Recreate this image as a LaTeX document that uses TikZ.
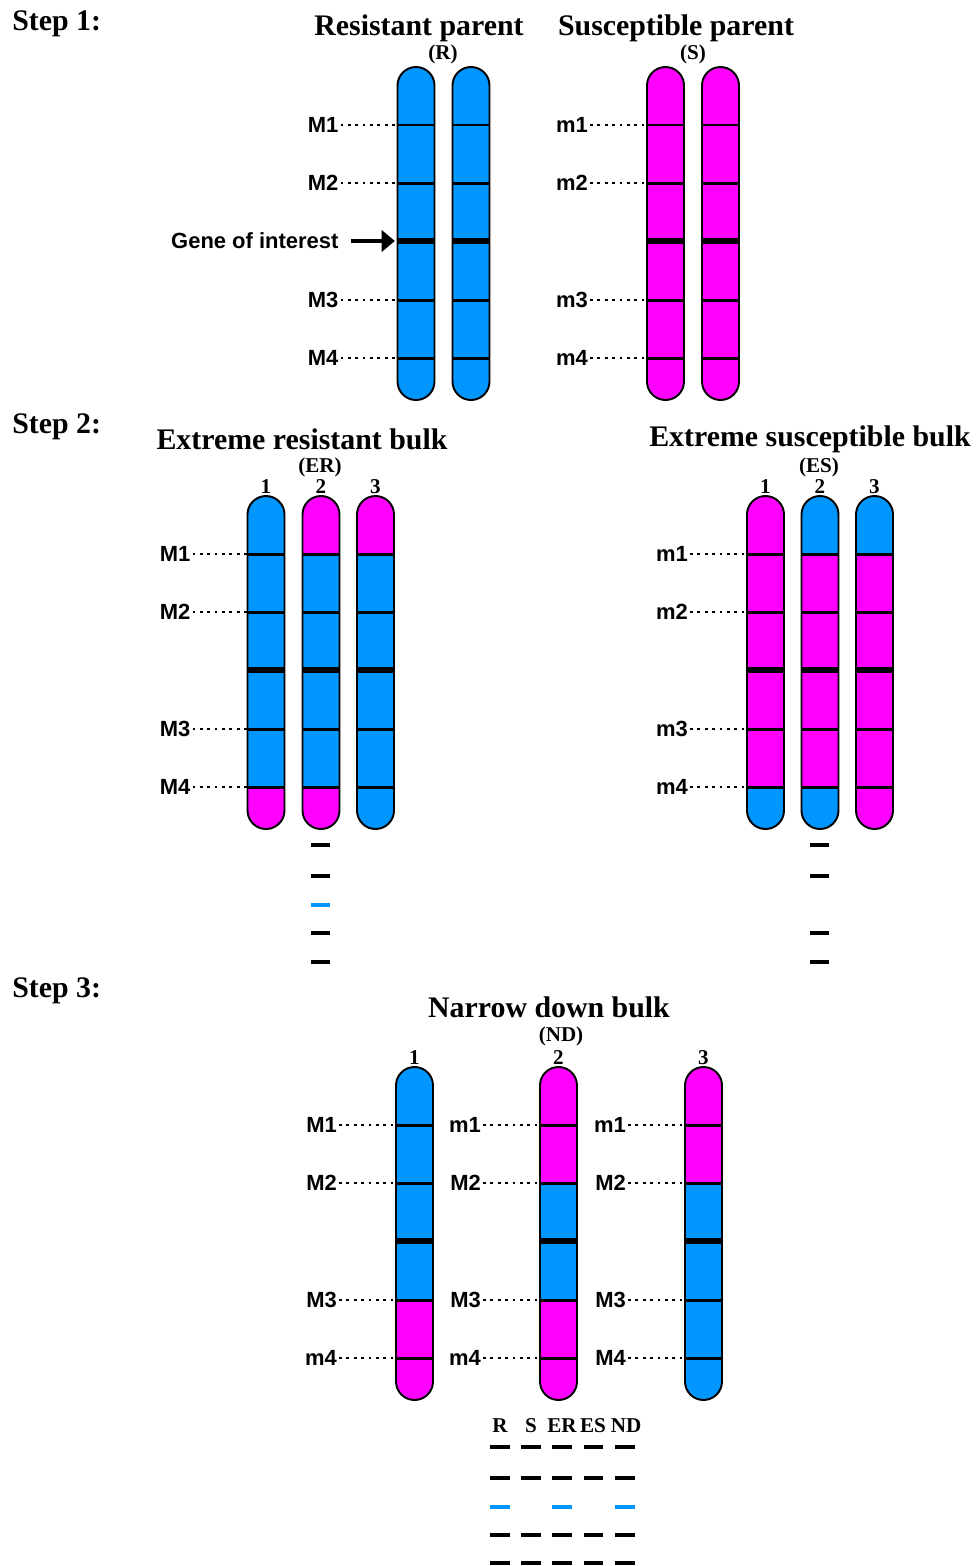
\documentclass[tikz,border=0pt]{standalone}
\usepackage{fontspec}
\setmainfont{Liberation Serif}
\newfontfamily\marksans{Liberation Sans}
\usetikzlibrary{arrows.meta,positioning}
\definecolor{resblue}{RGB}{0,150,255}
\definecolor{susmag}{RGB}{255,0,255}

% chromosome: name, centre x, top y, colours of the six segments (top to bottom)
\newcommand{\chromo}[9]{%
  \begin{scope}
    \clip[rounded corners=0.37cm] (#2-18.5,#3) rectangle (#2+18.5,#3+333);
    \fill[#4] (#2-20,#3) rectangle (#2+20,#3+58);
    \fill[#5] (#2-20,#3+58) rectangle (#2+20,#3+116);
    \fill[#6] (#2-20,#3+116) rectangle (#2+20,#3+174);
    \fill[#7] (#2-20,#3+174) rectangle (#2+20,#3+233);
    \fill[#8] (#2-20,#3+233) rectangle (#2+20,#3+291);
    \fill[#9] (#2-20,#3+291) rectangle (#2+20,#3+335);
  \end{scope}
  \coordinate (#1-1) at (#2-18.5,#3+58);
  \coordinate (#1-2) at (#2-18.5,#3+116);
  \coordinate (#1-3) at (#2-18.5,#3+174);
  \coordinate (#1-4) at (#2-18.5,#3+233);
  \coordinate (#1-5) at (#2-18.5,#3+291);
  \draw[band] (#1-1) -- +(37,0);
  \draw[band] (#1-2) -- +(37,0);
  \draw[geneband] (#1-3) -- +(37,0);
  \draw[band] (#1-4) -- +(37,0);
  \draw[band] (#1-5) -- +(37,0);
  \draw[chromline, rounded corners=0.37cm] (#2-18.5,#3) rectangle (#2+18.5,#3+333);
}

\begin{document}
\begin{tikzpicture}[
    x=0.02cm, y=-0.02cm,
    steplab/.style={font=\bfseries\fontsize{17}{20}\selectfont, anchor=base west, inner sep=0pt},
    title/.style={font=\bfseries\fontsize{17}{20}\selectfont, anchor=base, inner sep=0pt},
    tag/.style={font=\bfseries\fontsize{12}{14}\selectfont, anchor=base, inner sep=0pt},
    mlabel/.style={font=\marksans\bfseries\fontsize{12.5}{14}\selectfont, inner sep=1pt},
    dotline/.style={line width=1.6pt, dash pattern=on 1.6pt off 2.6pt},
    band/.style={line width=1.7pt},
    geneband/.style={line width=2.9pt},
    chromline/.style={line width=1.1pt},
    dashmark/.style={line width=2.2pt},
    genearrow/.style={-{Triangle[length=7.5pt, width=12pt]}, line width=2.6pt, shorten <=6pt, shorten >=1.5pt}
]
    \path[use as bounding box, fill=white] (0,0) rectangle (977,1566);

    % Step 1: parents
    \node[steplab] (step1) at (12,30) {Step 1:};
    \node[title] (rpar) at (419,35) {Resistant parent};
    \node[title] (spar) at (676,35) {Susceptible parent};
    \node[tag] (rtag) at (443,59) {(R)};
    \node[tag] (stag) at (693,59) {(S)};

    \chromo{R1}{416}{67}{resblue}{resblue}{resblue}{resblue}{resblue}{resblue}
    \chromo{R2}{471}{67}{resblue}{resblue}{resblue}{resblue}{resblue}{resblue}
    \chromo{S1}{665.5}{67}{susmag}{susmag}{susmag}{susmag}{susmag}{susmag}
    \chromo{S2}{720.5}{67}{susmag}{susmag}{susmag}{susmag}{susmag}{susmag}

    % marker labels, step 1
    \node[mlabel, left=1.14cm of R1-1] (rM1) {M1}; \draw[dotline] (rM1) -- (R1-1);
    \node[mlabel, left=1.14cm of R1-2] (rM2) {M2}; \draw[dotline] (rM2) -- (R1-2);
    \node[mlabel, left=1.14cm of R1-4] (rM3) {M3}; \draw[dotline] (rM3) -- (R1-4);
    \node[mlabel, left=1.14cm of R1-5] (rM4) {M4}; \draw[dotline] (rM4) -- (R1-5);
    \node[mlabel, left=1.14cm of R1-3] (gene) {Gene of interest};
    \draw[genearrow] (gene) -- (R1-3);

    \node[mlabel, left=1.14cm of S1-1] (sm1) {m1}; \draw[dotline] (sm1) -- (S1-1);
    \node[mlabel, left=1.14cm of S1-2] (sm2) {m2}; \draw[dotline] (sm2) -- (S1-2);
    \node[mlabel, left=1.14cm of S1-4] (sm3) {m3}; \draw[dotline] (sm3) -- (S1-4);
    \node[mlabel, left=1.14cm of S1-5] (sm4) {m4}; \draw[dotline] (sm4) -- (S1-5);

    % Step 2: extreme bulks
    \node[steplab] (step2) at (12,433) {Step 2:};
    \node[title] (erbulk) at (302,449) {Extreme resistant bulk};
    \node[title] (esbulk) at (810,446) {Extreme susceptible bulk};
    \node[tag] (ertag) at (320,472) {(ER)};
    \node[tag] (estag) at (819,472) {(ES)};
    \node[tag] (erno1) at (266,493) {1};
    \node[tag] (erno2) at (321,493) {2};
    \node[tag] (erno3) at (375.5,493) {3};
    \node[tag] (esno1) at (765.5,493) {1};
    \node[tag] (esno2) at (820,493) {2};
    \node[tag] (esno3) at (874.5,493) {3};

    \chromo{ER1}{266}{496}{resblue}{resblue}{resblue}{resblue}{resblue}{susmag}
    \chromo{ER2}{321}{496}{susmag}{resblue}{resblue}{resblue}{resblue}{susmag}
    \chromo{ER3}{375.5}{496}{susmag}{resblue}{resblue}{resblue}{resblue}{resblue}
    \chromo{ES1}{765.5}{496}{susmag}{susmag}{susmag}{susmag}{susmag}{resblue}
    \chromo{ES2}{820}{496}{resblue}{susmag}{susmag}{susmag}{susmag}{resblue}
    \chromo{ES3}{874.5}{496}{resblue}{susmag}{susmag}{susmag}{susmag}{susmag}

    % marker labels, step 2
    \node[mlabel, left=1.1cm of ER1-1] (erM1) {M1}; \draw[dotline] (erM1) -- (ER1-1);
    \node[mlabel, left=1.1cm of ER1-2] (erM2) {M2}; \draw[dotline] (erM2) -- (ER1-2);
    \node[mlabel, left=1.1cm of ER1-4] (erM3) {M3}; \draw[dotline] (erM3) -- (ER1-4);
    \node[mlabel, left=1.1cm of ER1-5] (erM4) {M4}; \draw[dotline] (erM4) -- (ER1-5);
    \node[mlabel, left=1.14cm of ES1-1] (esm1) {m1}; \draw[dotline] (esm1) -- (ES1-1);
    \node[mlabel, left=1.14cm of ES1-2] (esm2) {m2}; \draw[dotline] (esm2) -- (ES1-2);
    \node[mlabel, left=1.14cm of ES1-4] (esm3) {m3}; \draw[dotline] (esm3) -- (ES1-4);
    \node[mlabel, left=1.14cm of ES1-5] (esm4) {m4}; \draw[dotline] (esm4) -- (ES1-5);

    % gel lanes under the bulks
    \draw[dashmark] (311,845) -- (330,845) (311,876) -- (330,876)
        (311,933) -- (330,933) (311,962) -- (330,962);
    \draw[dashmark, resblue] (311,905) -- (330,905);
    \draw[dashmark] (810,845) -- (829,845) (810,876) -- (829,876)
        (810,933) -- (829,933) (810,962) -- (829,962);

    % Step 3: narrow down bulk
    \node[steplab] (step3) at (12,997) {Step 3:};
    \node[title] (ndbulk) at (549,1017) {Narrow down bulk};
    \node[tag] (ndtag) at (561,1041) {(ND)};
    \node[tag] (ndno1) at (414.5,1064) {1};
    \node[tag] (ndno2) at (558.5,1064) {2};
    \node[tag] (ndno3) at (703.5,1064) {3};

    \chromo{ND1}{414.5}{1067}{resblue}{resblue}{resblue}{resblue}{susmag}{susmag}
    \chromo{ND2}{558.5}{1067}{susmag}{susmag}{resblue}{resblue}{susmag}{susmag}
    \chromo{ND3}{703.5}{1067}{susmag}{susmag}{resblue}{resblue}{resblue}{resblue}

    % marker labels, step 3
    \node[mlabel, left=1.14cm of ND1-1] (nda1) {M1}; \draw[dotline] (nda1) -- (ND1-1);
    \node[mlabel, left=1.14cm of ND1-2] (nda2) {M2}; \draw[dotline] (nda2) -- (ND1-2);
    \node[mlabel, left=1.14cm of ND1-4] (nda3) {M3}; \draw[dotline] (nda3) -- (ND1-4);
    \node[mlabel, left=1.14cm of ND1-5] (nda4) {m4}; \draw[dotline] (nda4) -- (ND1-5);
    \node[mlabel, left=1.14cm of ND2-1] (ndb1) {m1}; \draw[dotline] (ndb1) -- (ND2-1);
    \node[mlabel, left=1.14cm of ND2-2] (ndb2) {M2}; \draw[dotline] (ndb2) -- (ND2-2);
    \node[mlabel, left=1.14cm of ND2-4] (ndb3) {M3}; \draw[dotline] (ndb3) -- (ND2-4);
    \node[mlabel, left=1.14cm of ND2-5] (ndb4) {m4}; \draw[dotline] (ndb4) -- (ND2-5);
    \node[mlabel, left=1.14cm of ND3-1] (ndc1) {m1}; \draw[dotline] (ndc1) -- (ND3-1);
    \node[mlabel, left=1.14cm of ND3-2] (ndc2) {M2}; \draw[dotline] (ndc2) -- (ND3-2);
    \node[mlabel, left=1.14cm of ND3-4] (ndc3) {M3}; \draw[dotline] (ndc3) -- (ND3-4);
    \node[mlabel, left=1.14cm of ND3-5] (ndc4) {M4}; \draw[dotline] (ndc4) -- (ND3-5);

    % gel: all samples side by side
    \node[tag] (gR) at (500,1432) {R};
    \node[tag] (gS) at (531,1432) {S};
    \node[tag] (gER) at (562,1432) {ER};
    \node[tag] (gES) at (593,1432) {ES};
    \node[tag] (gND) at (626,1432) {ND};
    \draw[dashmark] (490,1447) -- (510,1447) (521,1447) -- (541,1447) (552,1447) -- (572,1447) (584,1447) -- (603,1447) (615,1447) -- (635,1447);
    \draw[dashmark] (490,1478) -- (510,1478) (521,1478) -- (541,1478) (552,1478) -- (572,1478) (584,1478) -- (603,1478) (615,1478) -- (635,1478);
    \draw[dashmark, resblue] (490,1507) -- (510,1507) (552,1507) -- (572,1507) (615,1507) -- (635,1507);
    \draw[dashmark] (490,1535) -- (510,1535) (521,1535) -- (541,1535) (552,1535) -- (572,1535) (584,1535) -- (603,1535) (615,1535) -- (635,1535);
    \draw[dashmark] (490,1563) -- (510,1563) (521,1563) -- (541,1563) (552,1563) -- (572,1563) (584,1563) -- (603,1563) (615,1563) -- (635,1563);
\end{tikzpicture}
\end{document}
